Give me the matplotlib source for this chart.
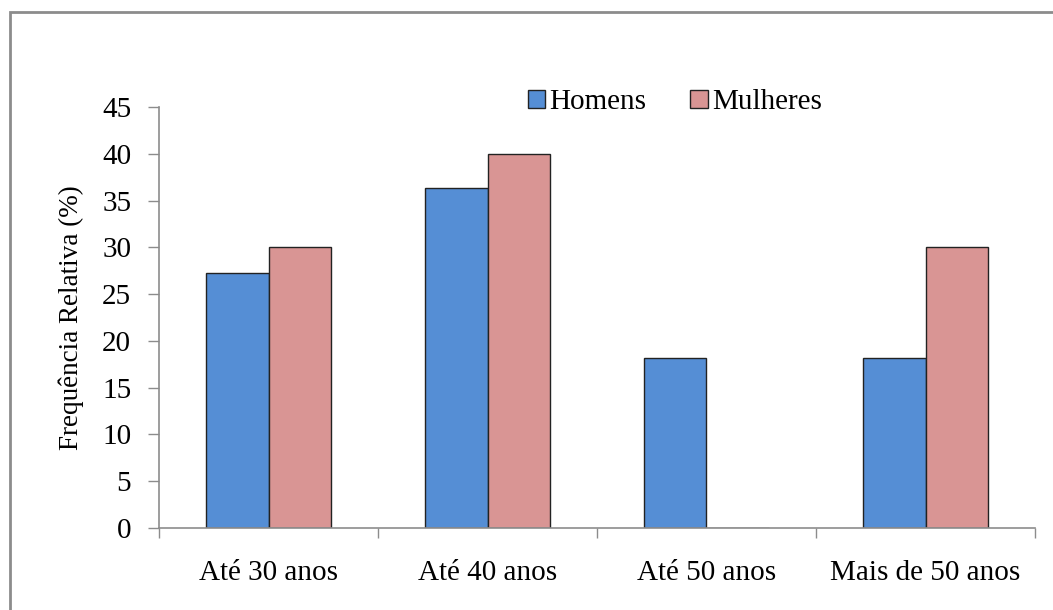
import matplotlib.pyplot as plt
import numpy as np
from matplotlib.patches import Rectangle

categories = ['Até 30 anos', 'Até 40 anos', 'Até 50 anos', 'Mais de 50 anos']
homens = [27.27, 36.36, 18.18, 18.18]
mulheres = [30.0, 40.0, 0.0, 30.0]

plt.rcParams['font.family'] = ['Liberation Serif', 'DejaVu Serif']

W, H = 1053, 610
fig = plt.figure(figsize=(W / 100, H / 100), dpi=100)

# outer chart border
fig.patches.append(Rectangle((10 / W, -0.1), 1.2, 1 - 12 / H + 0.1, transform=fig.transFigure,
                             fill=False, edgecolor='#8c8c8c', linewidth=2))

ax = fig.add_axes([159 / W, 1 - 528 / H, (1035 - 159) / W, (528 - 107) / H])

x = np.arange(len(categories))
w = 0.287
ax.bar(x - w / 2, homens, w, color='#558ed5', edgecolor='#222222', linewidth=1, label='Homens')
ax.bar(x + w / 2, mulheres, w, color='#d99594', edgecolor='#222222', linewidth=1, label='Mulheres')

ax.set_xlim(-0.5, 3.5)
ax.set_ylim(0, 45)
ax.set_yticks(range(0, 46, 5))
ax.set_xticks(x)
ax.set_xticklabels(categories, fontsize=21)
ax.set_xticks(np.arange(-0.5, 3.6, 1), minor=True)
ax.tick_params(axis='x', which='major', length=0, pad=23)
ax.tick_params(axis='x', which='minor', length=7, color='#8c8c8c', width=1)
ax.tick_params(axis='y', length=8, color='#8c8c8c', width=1, labelsize=21, pad=12)

for s in ['top', 'right']:
    ax.spines[s].set_visible(False)
for s in ['left', 'bottom']:
    ax.spines[s].set_color('#8c8c8c')
    ax.spines[s].set_linewidth(1.2)

ax.set_ylabel('Frequência Relativa (%)', fontsize=19.5, labelpad=13)

ax.legend(loc='upper left', bbox_to_anchor=((516 - 159) / (1035 - 159), 1.07), ncol=2,
          frameon=False, fontsize=21, handlelength=0.6, handleheight=0.6,
          handletextpad=0.15, columnspacing=1.5, borderaxespad=0)

fig.savefig('out.png', dpi=100)
